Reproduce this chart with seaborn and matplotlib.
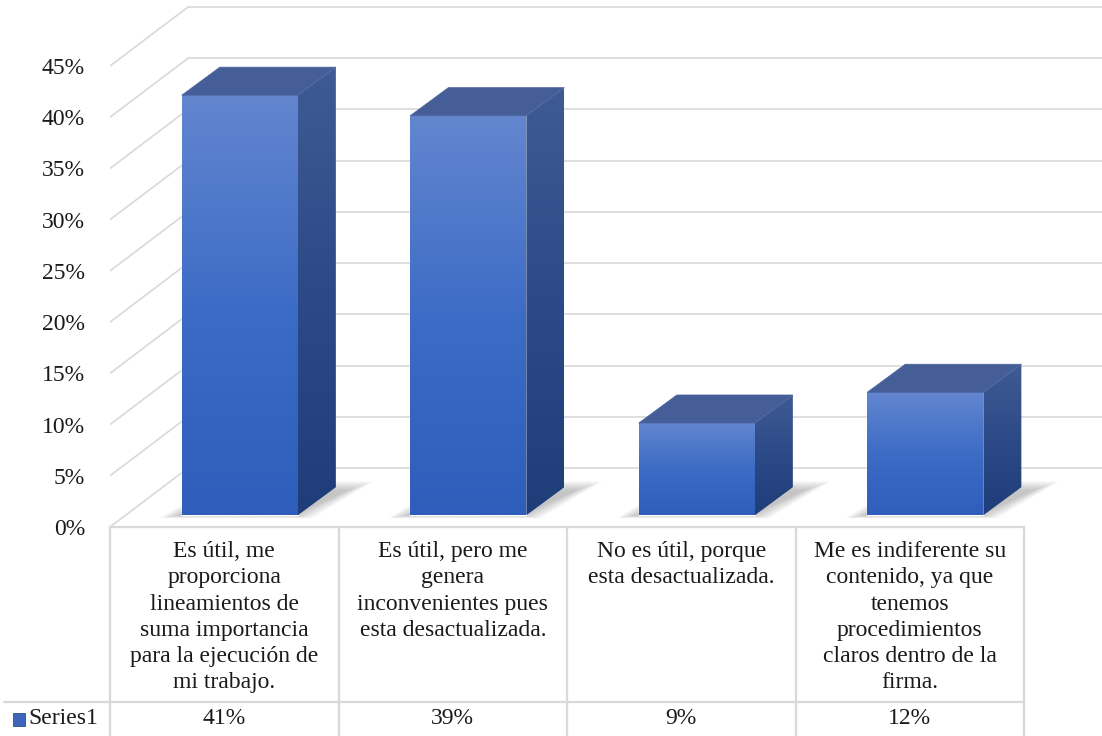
import numpy as np
import matplotlib
matplotlib.use("Agg")
import matplotlib.pyplot as plt
import seaborn as sns
import pandas as pd
from matplotlib.patches import Polygon, Rectangle
from matplotlib.colors import LinearSegmentedColormap

# ---------------- data ----------------
categories = [
    "Es útil, me\nproporciona\nlineamientos de\nsuma importancia\npara la ejecución de\nmi trabajo.",
    "Es útil, pero me\ngenera\ninconvenientes pues\nesta desactualizada.",
    "No es útil, porque\nesta desactualizada.",
    "Me es indiferente su\ncontenido, ya que\ntenemos\nprocedimientos\nclaros dentro de la\nfirma.",
]
values = [0.41, 0.39, 0.09, 0.12]
value_labels = ["41%", "39%", "9%", "12%"]
series_name = "Series1"
yticks = [0.00, 0.05, 0.10, 0.15, 0.20, 0.25, 0.30, 0.35, 0.40, 0.45]
ytick_labels = ["0%", "5%", "10%", "15%", "20%", "25%", "30%", "35%", "40%", "45%"]

# ---------------- layout ----------------
W, H = 1102, 736
CW = 228.5      # pixels per category
PY = 1024.4     # pixels per unit value
X0PX, Y0PX = 110, 527

sns.set_theme(style="white")
plt.rcParams["font.family"] = ["Liberation Serif", "DejaVu Serif"]
FS = 17
TXT = "#1a1a1a"
GRID = "#d9d9d9"

fig = plt.figure(figsize=(W / 100, H / 100), dpi=100)
ax = fig.add_axes([X0PX / W, (H - Y0PX) / H, (W - X0PX) / W, Y0PX / H])

def px2x(px):
    return -0.5 + (px - X0PX) / CW

def px2y(py):
    return (Y0PX - py) / PY

# depth offsets of the back wall (3-D perspective)
DX, DY = 78 / CW, 59 / PY
F0 = 0.2                  # bar front depth fraction
BDX, BDY = 38 / CW, 28 / PY
BW = 116 / CW

df = pd.DataFrame({"cat": categories, "val": values})
sns.barplot(data=df, x="cat", y="val", order=categories, width=BW,
            color="#4472c4", ax=ax, zorder=4, saturation=1)

xmin, xmax = -0.5, px2x(W)
ymax = px2y(0)

# back wall gridlines + side wall diagonals
for v in yticks:
    ax.plot([xmin + DX, xmax], [v + DY, v + DY], color=GRID, lw=1.2, zorder=1,
            solid_capstyle="butt")
    ax.plot([xmin, xmin + DX], [v, v + DY], color=GRID, lw=1.2, zorder=1)

front_cmap = LinearSegmentedColormap.from_list("f", ["#2e5dbb", "#3d6cc6", "#6386cf"])
side_cmap = LinearSegmentedColormap.from_list("s", ["#1e3d79", "#2c4a87", "#3f5b95"])
grad = np.linspace(0, 1, 256).reshape(-1, 1)

for p in list(ax.patches):
    p.set_x(p.get_x() + F0 * DX)
    p.set_y(p.get_y() + F0 * DY)
    xl, yb = p.get_x(), p.get_y()
    xr, yt = xl + p.get_width(), yb + p.get_height()
    # soft shadow on the floor
    for k in range(10):
        e = k * 2.0
        sh = Polygon([(xl - (22 - e) / CW, yb - (3 - e * 0.15) / PY),
                      (xr + (14 - e) / CW, yb - (3 - e * 0.15) / PY),
                      (xr + BDX + (38 - e * 1.4) / CW, yb + BDY + (6 - e * 0.5) / PY),
                      (xl + BDX + e / CW, yb + BDY + (6 - e * 0.5) / PY)],
                     closed=True, facecolor="#6a6a6a", edgecolor="none",
                     alpha=0.045, zorder=2)
        ax.add_patch(sh)
    # front face gradient
    ax.imshow(grad, extent=(xl, xr, yb, yt), origin="lower", cmap=front_cmap,
              aspect="auto", zorder=5, interpolation="bilinear")
    # side face
    side = Polygon([(xr, yb), (xr, yt), (xr + BDX, yt + BDY), (xr + BDX, yb + BDY)],
                   closed=True, facecolor="none", edgecolor="none", zorder=5)
    ax.add_patch(side)
    im = ax.imshow(grad, extent=(xr, xr + BDX, yb, yt + BDY), origin="lower",
                   cmap=side_cmap, aspect="auto", zorder=5, interpolation="bilinear")
    im.set_clip_path(side)
    # top face
    top = Polygon([(xl, yt), (xr, yt), (xr + BDX, yt + BDY), (xl + BDX, yt + BDY)],
                  closed=True, facecolor="#465e97", edgecolor="#4d67a2", lw=0.6, zorder=6)
    ax.add_patch(top)

ax.set_xlim(xmin, xmax)
ax.set_ylim(0, ymax)
ax.set_xticks([])
ax.set_xlabel("")
ax.set_ylabel("")
ax.set_yticks(yticks, ytick_labels)
ax.tick_params(axis="y", length=0, pad=18, labelsize=FS, labelcolor=TXT)
for s in ax.spines.values():
    s.set_visible(False)
ax.grid(False)

# ---------------- data table ----------------
ncat = len(categories)
row_top = 0.0
row_mid = px2y(702)
row_bot = px2y(H + 2)
leg_left = px2x(4)
lk = dict(color=GRID, lw=1.6, clip_on=False, zorder=1)
ax.plot([xmin, ncat - 0.5], [row_top, row_top], **lk)
ax.plot([leg_left, ncat - 0.5], [row_mid, row_mid], **lk)
for i in range(ncat + 1):
    ax.plot([i - 0.5, i - 0.5], [row_top, row_bot], **lk)

for i, lab in enumerate(categories):
    ax.text(i, px2y(541), lab, ha="center", va="top", fontsize=FS, color=TXT,
            linespacing=1.33, clip_on=False)
for i, lab in enumerate(value_labels):
    ax.text(i, px2y(719), lab, ha="center", va="center", fontsize=FS, color=TXT,
            clip_on=False)

# legend key
key = Rectangle((px2x(13), px2y(726)), 12 / CW, 13 / PY, facecolor="#3f67b9",
                edgecolor="#2c4c90", lw=0.6, clip_on=False, zorder=3)
ax.add_patch(key)
ax.text(px2x(28), px2y(719), series_name, ha="left", va="center", fontsize=FS,
        color=TXT, clip_on=False)

fig.savefig("out.png", dpi=100)
